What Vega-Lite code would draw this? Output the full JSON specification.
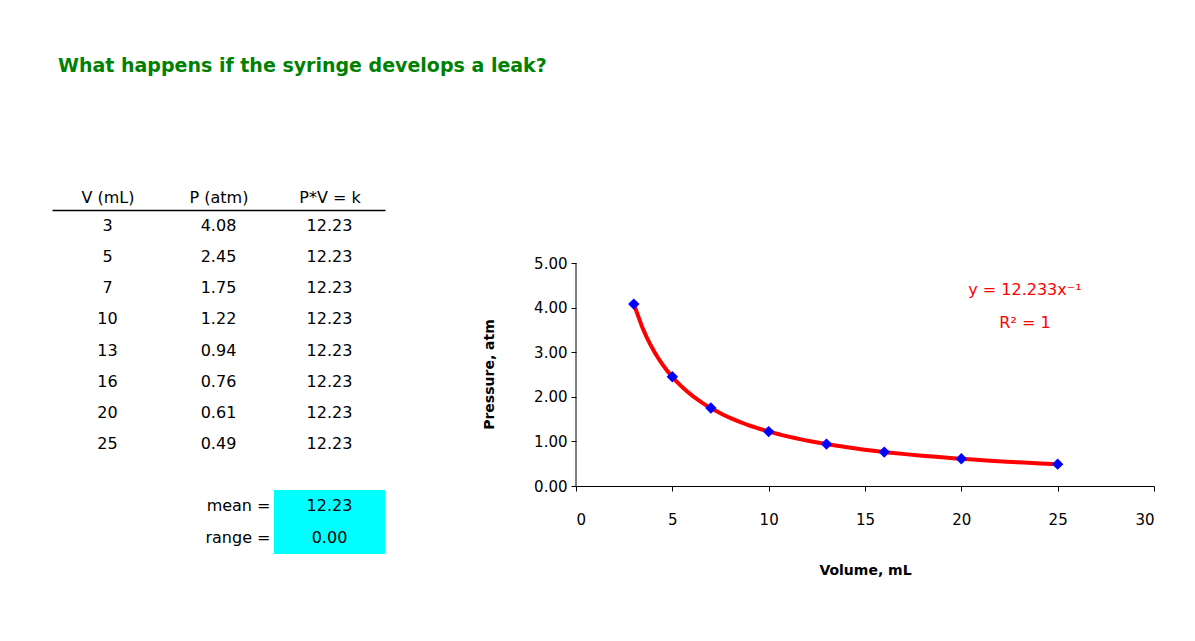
{
  "$schema": "https://vega.github.io/schema/vega-lite/v6.json",
  "padding": {"left": 52, "top": 57, "right": 10, "bottom": 10},
  "background": "white",
  "title": {"text": "What happens if the syringe develops a leak?", "anchor": "start", "color": "#008000", "font": "DejaVu Sans", "fontSize": 19, "fontWeight": "bold", "offset": 113, "dx": 6},
  "config": {"font": "DejaVu Sans", "view": {"stroke": null}},
  "datasets": {
    "syringe": [
      {"V": 3, "P": 4.08, "k": 12.23},
      {"V": 5, "P": 2.45, "k": 12.23},
      {"V": 7, "P": 1.75, "k": 12.23},
      {"V": 10, "P": 1.22, "k": 12.23},
      {"V": 13, "P": 0.94, "k": 12.23},
      {"V": 16, "P": 0.76, "k": 12.23},
      {"V": 20, "P": 0.61, "k": 12.23},
      {"V": 25, "P": 0.49, "k": 12.23}
    ],
    "stats": [
      {"stat": "mean", "label": "mean =", "value": "12.23"},
      {"stat": "range", "label": "range =", "value": "0.00"}
    ],
    "trend": [
      {"eq": "y = 12.233x⁻¹", "r2": "R² = 1"}
    ]
  },
  "spacing": 97,
  "hconcat": [
    {
      "spacing": 30,
      "vconcat": [
        {
          "width": 333,
          "height": 250,
          "data": {"name": "syringe"},
          "encoding": {
            "y": {"field": "V", "type": "ordinal", "axis": null, "scale": {"paddingInner": 0, "paddingOuter": 0}}
          },
          "layer": [
            {
              "mark": {"type": "text", "fontSize": 16, "color": "black"},
              "encoding": {
                "x": {"datum": "V (mL)", "type": "nominal",
                  "scale": {"domain": ["V (mL)", "P (atm)", "P*V = k"], "paddingInner": 0, "paddingOuter": 0},
                  "axis": {"orient": "top", "title": null, "labelAngle": 0, "labelFontSize": 16, "labelColor": "black", "ticks": false, "domainColor": "black", "domainWidth": 1.5, "labelPadding": 5}},
                "text": {"field": "V", "type": "quantitative", "format": "d"}
              }
            },
            {
              "mark": {"type": "text", "fontSize": 16, "color": "black"},
              "encoding": {
                "x": {"datum": "P (atm)", "type": "nominal"},
                "text": {"field": "P", "type": "quantitative", "format": ".2f"}
              }
            },
            {
              "mark": {"type": "text", "fontSize": 16, "color": "black"},
              "encoding": {
                "x": {"datum": "P*V = k", "type": "nominal"},
                "text": {"field": "k", "type": "quantitative", "format": ".2f"}
              }
            }
          ]
        },
        {
          "width": 333,
          "height": 64,
          "data": {"name": "stats"},
          "encoding": {
            "y": {"field": "stat", "type": "nominal", "sort": null, "axis": null, "scale": {"paddingInner": 0, "paddingOuter": 0}}
          },
          "layer": [
            {
              "mark": {"type": "rect", "color": "#00FFFF"},
              "encoding": {
                "x": {"datum": "P*V = k", "type": "nominal",
                  "scale": {"domain": ["V (mL)", "P (atm)", "P*V = k"], "paddingInner": 0, "paddingOuter": 0},
                  "axis": null}
              }
            },
            {
              "mark": {"type": "text", "fontSize": 16, "color": "black", "align": "right", "dx": 52},
              "encoding": {
                "x": {"datum": "P (atm)", "type": "nominal"},
                "text": {"field": "label", "type": "nominal"}
              }
            },
            {
              "mark": {"type": "text", "fontSize": 16, "color": "black"},
              "encoding": {
                "x": {"datum": "P*V = k", "type": "nominal"},
                "text": {"field": "value", "type": "nominal"}
              }
            }
          ]
        }
      ]
    },
    {
      "width": 578,
      "height": 276,
      "layer": [
        {
          "data": {"name": "syringe"},
          "transform": [{"regression": "P", "on": "V", "method": "pow", "extent": [3, 25]}],
          "mark": {"type": "line", "color": "#FF0000", "strokeWidth": 4},
          "encoding": {
            "x": {"field": "V", "type": "quantitative",
              "scale": {"domain": [0, 30], "nice": false},
              "axis": {"title": "Volume, mL", "titleFontWeight": "bold", "titleFontSize": 14, "titleColor": "black", "titlePadding": 36,
                "values": [0, 5, 10, 15, 20, 25, 30], "labelFontSize": 15, "labelColor": "black", "labelPadding": 21,
                "tickSize": 5, "tickColor": "black", "domainColor": "black", "grid": false}},
            "y": {"field": "P", "type": "quantitative",
              "scale": {"domain": [0, 6.19], "nice": false},
              "axis": {"title": "Pressure, atm", "titleFontWeight": "bold", "titleFontSize": 14, "titleColor": "black", "titlePadding": 37, "titleY": 164,
                "values": [0, 1, 2, 3, 4, 5], "format": ".2f", "labelFontSize": 15, "labelColor": "black", "labelPadding": 4,
                "tickSize": 5, "tickColor": "black", "domain": false, "grid": false}}
          }
        },
        {
          "data": {"name": "syringe"},
          "mark": {"type": "point", "shape": "diamond", "filled": true, "color": "#0000FF", "size": 130, "opacity": 1},
          "encoding": {
            "x": {"field": "V", "type": "quantitative"},
            "y": {"field": "P", "type": "quantitative"}
          }
        },
        {
          "data": {"name": "trend"},
          "mark": {"type": "rule", "color": "black", "strokeWidth": 1},
          "encoding": {
            "x": {"datum": 0, "type": "quantitative"},
            "y": {"datum": 0, "type": "quantitative"},
            "y2": {"datum": 5}
          }
        },
        {
          "data": {"name": "trend"},
          "mark": {"type": "text", "color": "#FF0000", "fontSize": 16},
          "encoding": {
            "x": {"datum": 23.3, "type": "quantitative"},
            "y": {"datum": 4.4, "type": "quantitative"},
            "text": {"field": "eq", "type": "nominal"}
          }
        },
        {
          "data": {"name": "trend"},
          "mark": {"type": "text", "color": "#FF0000", "fontSize": 16},
          "encoding": {
            "x": {"datum": 23.3, "type": "quantitative"},
            "y": {"datum": 3.65, "type": "quantitative"},
            "text": {"field": "r2", "type": "nominal"}
          }
        }
      ]
    }
  ]
}
